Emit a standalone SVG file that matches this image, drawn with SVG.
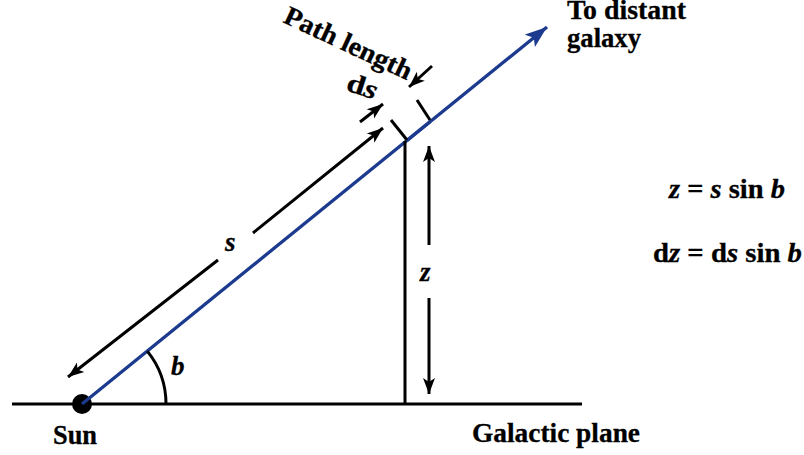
<svg xmlns="http://www.w3.org/2000/svg" width="804" height="455" viewBox="0 0 804 455">
<style>
text{font-family:"Liberation Serif","Times New Roman",serif;font-weight:bold;fill:#000;font-size:27px;stroke:#000;stroke-width:0.3}
.it{font-style:italic}
.k{stroke:#000;fill:none;stroke-width:3}
.bl{stroke:#1c3a8e;fill:none;stroke-width:3.3}
</style>
<defs>
<marker id="ah" markerUnits="userSpaceOnUse" markerWidth="18" markerHeight="14" refX="16" refY="7" orient="auto"><path d="M0,1 L16,7 L0,13 L4,7 Z" fill="#000"/></marker>
<marker id="ahb" markerUnits="userSpaceOnUse" markerWidth="24" markerHeight="18" refX="22" refY="9" orient="auto"><path d="M0,1 L22,9 L0,17 L5,9 Z" fill="#1c3a8e"/></marker>
</defs>
<g id="plane">
<line class="k" x1="12" y1="404" x2="582" y2="404" stroke-width="3.5"/>
<text x="472" y="442" textLength="168" lengthAdjust="spacingAndGlyphs">Galactic plane</text>
</g>
<g id="sun">
<circle cx="82" cy="404" r="10" fill="#000"/>
<text x="53" y="444" textLength="44" lengthAdjust="spacingAndGlyphs">Sun</text>
</g>
<g id="connectors">
<line class="bl" x1="82" y1="404" x2="547" y2="27" marker-end="url(#ahb)"/>
<line class="bl" x1="407" y1="140.5" x2="430" y2="121.8" stroke-width="6"/>
<line class="k" x1="405" y1="141" x2="405" y2="404" stroke-width="3.5"/>
<line class="k" x1="391" y1="120" x2="407" y2="140" stroke-width="2"/>
<line class="k" x1="417" y1="100" x2="430" y2="120" stroke-width="2"/>
<line class="k" x1="218" y1="260" x2="68" y2="377" marker-end="url(#ah)"/>
<line class="k" x1="253" y1="233" x2="383" y2="128" marker-end="url(#ah)"/>
<line class="k" x1="429" y1="245" x2="429" y2="146" marker-end="url(#ah)"/>
<line class="k" x1="429" y1="298" x2="429" y2="394" marker-end="url(#ah)"/>
<line class="k" x1="360" y1="122" x2="383" y2="104" marker-end="url(#ah)"/>
<line class="k" x1="432" y1="66" x2="409" y2="87" marker-end="url(#ah)"/>
<path class="k" d="M166,404 A84,84 0 0 0 147.3,351.1" stroke-width="2.5"/>
</g>
<g id="labels">
<text x="567" y="19" font-size="26" textLength="119" lengthAdjust="spacingAndGlyphs">To distant</text>
<text x="567" y="47" font-size="26" textLength="74" lengthAdjust="spacingAndGlyphs">galaxy</text>
<text transform="translate(282,22) rotate(25)" textLength="138" lengthAdjust="spacingAndGlyphs">Path length</text>
<text transform="translate(345,90) rotate(18)" textLength="31" lengthAdjust="spacingAndGlyphs">d<tspan class="it">s</tspan></text>
<text class="it" x="225" y="251" font-size="29">s</text>
<text class="it" x="420" y="281" font-size="29">z</text>
<text class="it" x="171" y="375" font-size="29">b</text>
<text x="669" y="198" textLength="116" lengthAdjust="spacingAndGlyphs"><tspan class="it">z</tspan> = <tspan class="it">s</tspan> sin <tspan class="it">b</tspan></text>
<text x="653" y="262" textLength="149" lengthAdjust="spacingAndGlyphs">d<tspan class="it">z</tspan> = d<tspan class="it">s</tspan> sin <tspan class="it">b</tspan></text>
</g>
</svg>
